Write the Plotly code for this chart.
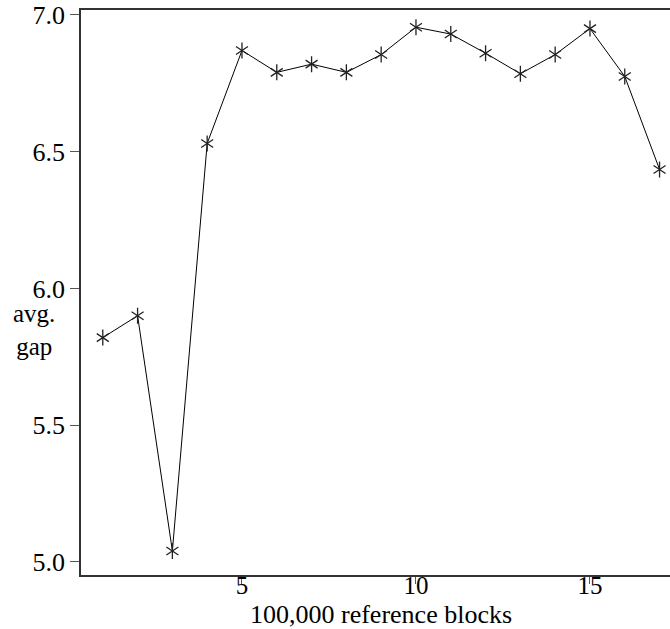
import plotly.graph_objects as go

blocks = list(range(1, 18))
avg_gap = [5.82, 5.90, 5.04, 6.53, 6.87, 6.79, 6.82, 6.79, 6.855, 6.955,
           6.93, 6.86, 6.785, 6.855, 6.95, 6.775, 6.435]
y_ticks = [5.0, 5.5, 6.0, 6.5, 7.0]
y_tick_labels = ["5.0", "5.5", "6.0", "6.5", "7.0"]
x_ticks = [5, 10, 15]
x_tick_labels = ["5", "10", "15"]

FONT = "Liberation Serif, Times New Roman, serif"

fig = go.Figure()
fig.add_trace(go.Scatter(x=blocks, y=avg_gap, mode="lines",
                         line=dict(color="black", width=1), showlegend=False))
for sym in ["y-up-open", "y-down-open"]:
    fig.add_trace(go.Scatter(x=blocks, y=avg_gap, mode="markers",
                             marker=dict(symbol=sym, size=10, color="#222",
                                         line=dict(color="#222", width=1.3)),
                             showlegend=False))

fig.update_layout(
    width=670, height=629,
    margin=dict(l=81, r=0, t=10, b=54),
    paper_bgcolor="white", plot_bgcolor="white",
    font=dict(family=FONT, size=26, color="black"),
    xaxis=dict(range=[0.374, 17.3], tickvals=x_ticks, ticktext=x_tick_labels,
               ticks="outside", ticklen=7, tickcolor="#555", tickwidth=1,
               ticklabelstandoff=-20,
               showline=True, linecolor="#333", linewidth=1.5, mirror=True,
               showgrid=False, zeroline=False,
               tickfont=dict(family=FONT, size=25, color="black")),
    yaxis=dict(range=[4.952, 7.018], tickvals=y_ticks, ticktext=y_tick_labels,
               ticks="outside", ticklen=9, tickcolor="#555", tickwidth=1,
               showline=True, linecolor="#333", linewidth=1.5, mirror=False,
               showgrid=False, zeroline=False,
               tickfont=dict(family=FONT, size=26, color="black")),
    annotations=[
        dict(text="avg.<br>gap", xref="paper", yref="paper", x=-0.08, y=0.434,
             xanchor="center", yanchor="middle", showarrow=False,
             font=dict(family=FONT, size=25, color="black")),
        dict(text="100,000 reference blocks", xref="paper", yref="paper",
             x=0.509, y=-0.070, xanchor="center", yanchor="middle",
             showarrow=False, font=dict(family=FONT, size=26, color="black")),
    ],
)

fig.write_html("out.html")
